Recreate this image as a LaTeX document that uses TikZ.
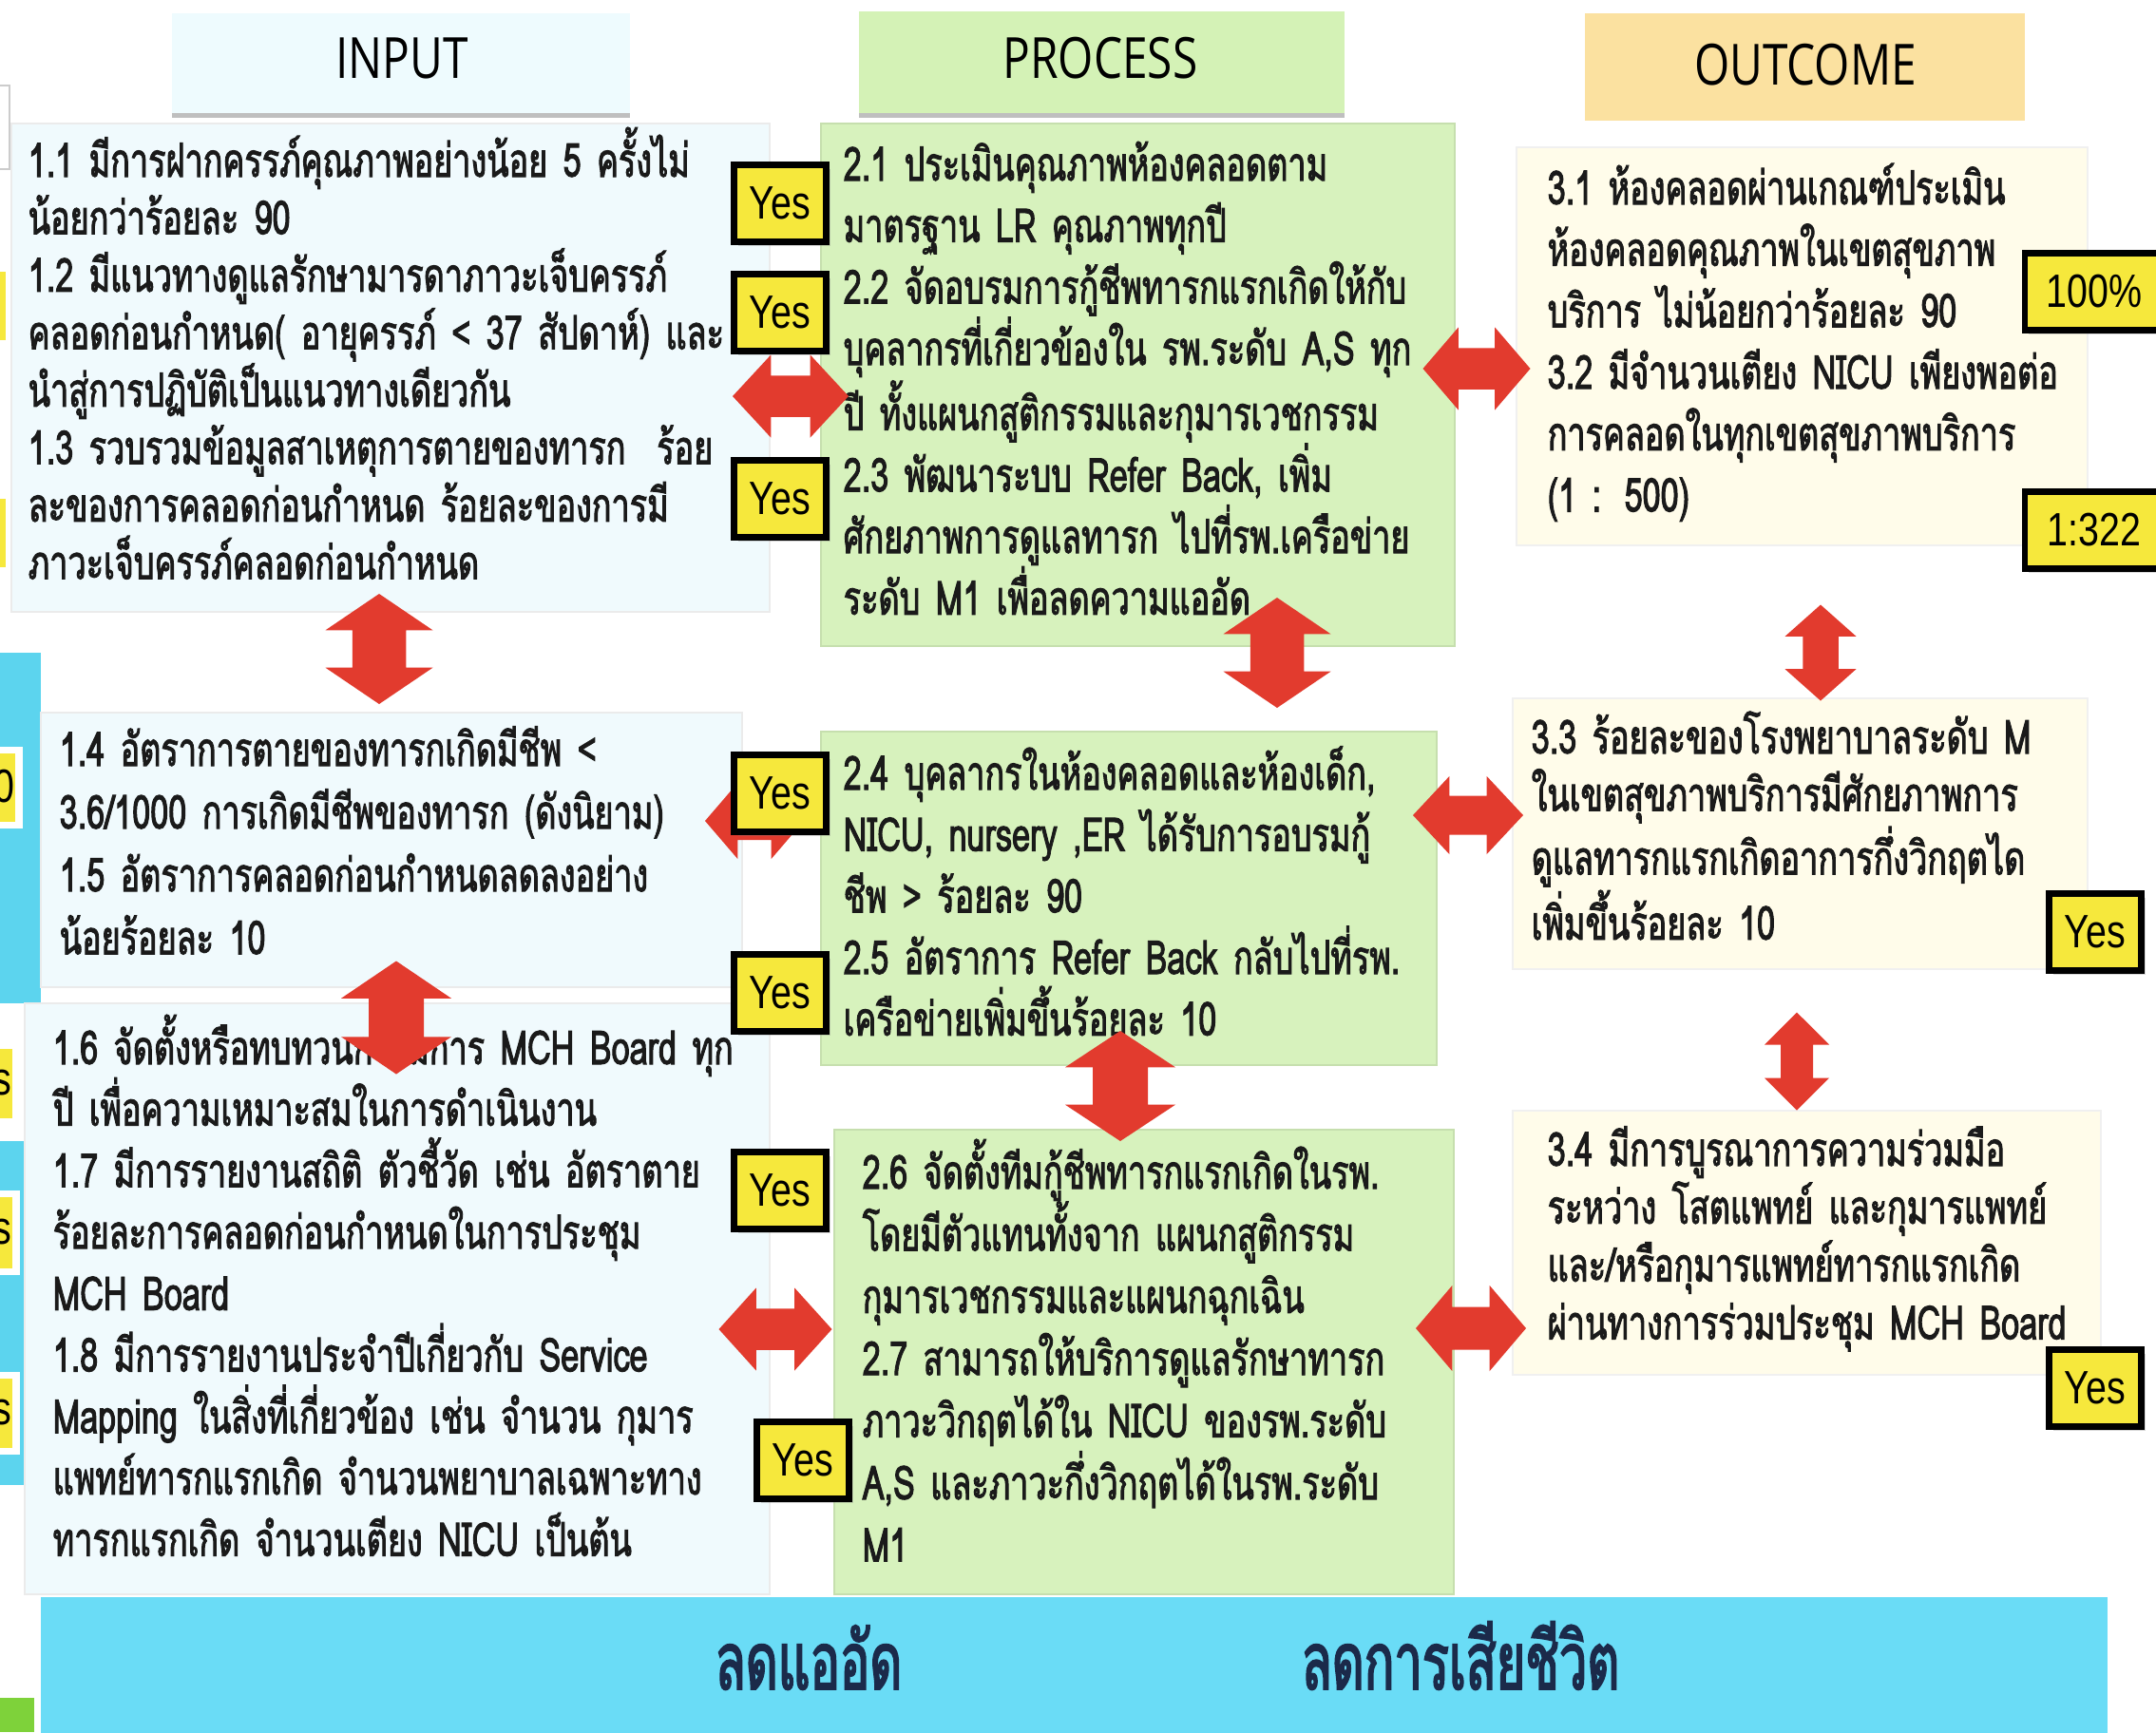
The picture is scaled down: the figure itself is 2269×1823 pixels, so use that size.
\documentclass[tikz,border=0pt]{standalone}
\usepackage{fontspec}
\newfontfamily\thaifont[Script=Thai, FakeStretch=0.695, FakeBold=2]{Loma}
\newfontfamily\thaibig[Script=Thai, FakeStretch=0.62, FakeBold=2.2]{Loma}
\newfontfamily\headfont[FakeStretch=0.8]{Open Sans}
\newfontfamily\yesfont[FakeStretch=0.8]{Liberation Sans}
\usetikzlibrary{fit,shadows}

\definecolor{inputfill}{HTML}{F0FAFD}
\definecolor{inhead}{HTML}{EEFBFE}
\definecolor{procfill}{HTML}{D7F2BD}
\definecolor{prochead}{HTML}{D4F2B6}
\definecolor{outfill}{HTML}{FFFCEA}
\definecolor{outhead}{HTML}{FBE1A0}
\definecolor{barfill}{HTML}{6ADCF6}
\definecolor{bartext}{HTML}{1B2A4A}
\definecolor{arrowred}{HTML}{E23B2E}
\definecolor{yesfill}{HTML}{F6E83C}
\definecolor{thaitext}{HTML}{1A1A1A}
\definecolor{stripblue}{HTML}{5CD4EE}
\definecolor{leafgreen}{HTML}{7ED23A}

\begin{document}
\begin{tikzpicture}[x=0.01cm, y=-0.01cm,
    boxbase/.style={inner sep=0pt, line width=0.5pt},
    inbox/.style={boxbase, fill=inputfill, draw=black!8},
    prbox/.style={boxbase, fill=procfill, draw=procfill!92!black},
    outbox/.style={boxbase, fill=outfill, draw=black!6},
    headtext/.style={anchor=base, inner sep=0pt, font=\headfont\fontsize{17}{20}\selectfont},
    thai/.style={anchor=base west, align=left, text width=8cm, inner sep=0pt, text=thaitext,
        font=\thaifont\fontsize{14}{#1}\selectfont},
    thai/.default=18.4pt,
    bartitle/.style={anchor=base, inner sep=0pt, text=bartext,
        font=\thaibig\fontsize{24}{28}\selectfont},
    yesbox/.style={fill=yesfill, draw=black, line width=1.8pt, inner sep=0pt,
        minimum width=0.97cm, minimum height=0.81cm,
        font=\yesfont\fontsize{14}{16}\selectfont,
        drop shadow={opacity=0.3, shadow xshift=1.2pt, shadow yshift=-1.2pt}},
    cutbox/.style={fill=yesfill, draw=white, line width=2pt},
    pics/dblarrow/.style 2 args={code={
        \pgfmathsetmacro\ax{#1/2}
        \pgfmathsetmacro\bx{#1/2-0.33*#1}
        \pgfmathsetmacro\hw{#2/2}
        \pgfmathsetmacro\sw{#2/4}
        \fill[arrowred] (-\ax,0) -- (-\bx,\hw) -- (-\bx,\sw) -- (\bx,\sw) -- (\bx,\hw)
            -- (\ax,0) -- (\bx,-\hw) -- (\bx,-\sw) -- (-\bx,-\sw) -- (-\bx,-\hw) -- cycle;
    }},
]

\path[use as bounding box, clip] (0,0) rectangle (2269,1823);
\fill[white] (0,0) rectangle (2269,1823);

% === left edge: cut-off neighbour ===
\fill[stripblue] (0,687) rectangle (43,1056);
\fill[stripblue] (0,1201) rectangle (26,1563);
\fill[leafgreen] (0,1787) rectangle (36,1823);
\draw[black!20, fill=white] (-40,90) rectangle (10,178);
\draw[cutbox] (-60,282) rectangle (10,362);
\draw[cutbox] (-60,521) rectangle (10,600);
\draw[cutbox] (-60,789) rectangle (20,868);
\draw[cutbox] (-60,1100) rectangle (17,1180);
\draw[cutbox] (-60,1256) rectangle (17,1338);
\draw[cutbox] (-60,1447) rectangle (17,1527);
\node[anchor=east, inner sep=0pt, font=\yesfont\fontsize{14}{16}\selectfont] (cut0) at (16,828) {0};
\foreach \n/\y in {cut1/1140, cut2/1297, cut3/1487}
    \node[anchor=east, inner sep=0pt, font=\yesfont\fontsize{14}{16}\selectfont] (\n) at (13,\y) {s};

% === headers ===
\fill[inhead] (181,14) rectangle (663,123);
\fill[black!25] (181,119) rectangle (663,124);
\node[headtext] (hin) at (423,82) {INPUT};
\fill[prochead] (904,12) rectangle (1415,123);
\fill[black!25] (904,119) rectangle (1415,124);
\node[headtext] (hpr) at (1158,82) {PROCESS};
\fill[outhead] (1668,14) rectangle (2131,127);
\node[headtext] (hout) at (1900,89) {OUTCOME};

% === INPUT ===
\node[inbox, fit={(12,130) (810,644)}] (in1) {};
\node[inbox, fit={(43,750) (781,1039)}] (in2) {};
\node[inbox, fit={(26,1056) (810,1678)}] (in3) {};

\node[thai=17.2pt] (tin1) at (29,186) {1.1 มีการฝากครรภ์คุณภาพอย่างน้อย 5 ครั้งไม่\\
น้อยกว่าร้อยละ 90\\
1.2 มีแนวทางดูแลรักษามารดาภาวะเจ็บครรภ์\\
คลอดก่อนกำหนด( อายุครรภ์ < 37 สัปดาห์) และ\\
นำสู่การปฏิบัติเป็นแนวทางเดียวกัน\\
1.3 รวบรวมข้อมูลสาเหตุการตายของทารก~ ร้อย\\
ละของการคลอดก่อนกำหนด ร้อยละของการมี\\
ภาวะเจ็บครรภ์คลอดก่อนกำหนด};

\node[thai=18.8pt] (tin2) at (62,806) {1.4 อัตราการตายของทารกเกิดมีชีพ <\\
3.6/1000 การเกิดมีชีพของทารก (ดังนิยาม)\\
1.5 อัตราการคลอดก่อนกำหนดลดลงอย่าง\\
น้อยร้อยละ 10};

\node[thai] (tin3) at (55,1120) {1.6 จัดตั้งหรือทบทวนกรรมการ MCH Board ทุก\\
ปี เพื่อความเหมาะสมในการดำเนินงาน\\
1.7 มีการรายงานสถิติ ตัวชี้วัด เช่น อัตราตาย\\
ร้อยละการคลอดก่อนกำหนดในการประชุม\\
MCH Board\\
1.8 มีการรายงานประจำปีเกี่ยวกับ Service\\
Mapping ในสิ่งที่เกี่ยวข้อง เช่น จำนวน กุมาร\\
แพทย์ทารกแรกเกิด จำนวนพยาบาลเฉพาะทาง\\
ทารกแรกเกิด จำนวนเตียง NICU เป็นต้น};

% === PROCESS ===
\node[prbox, fit={(864,130) (1531,680)}] (pr1) {};
\node[prbox, fit={(864,770) (1512,1121)}] (pr2) {};
\node[prbox, fit={(878,1189) (1530,1678)}] (pr3) {};

\node[thai] (tpr1) at (887,190) {2.1 ประเมินคุณภาพห้องคลอดตาม\\
มาตรฐาน LR คุณภาพทุกปี\\
2.2 จัดอบรมการกู้ชีพทารกแรกเกิดให้กับ\\
บุคลากรที่เกี่ยวข้องใน รพ.ระดับ A,S ทุก\\
ปี ทั้งแผนกสูติกรรมและกุมารเวชกรรม\\
2.3 พัฒนาระบบ Refer Back, เพิ่ม\\
ศักยภาพการดูแลทารก ไปที่รพ.เครือข่าย\\
ระดับ M1 เพื่อลดความแออัด};

\node[thai] (tpr2) at (887,831) {2.4 บุคลากรในห้องคลอดและห้องเด็ก,\\
NICU, nursery ,ER ได้รับการอบรมกู้\\
ชีพ > ร้อยละ 90\\
2.5 อัตราการ Refer Back กลับไปที่รพ.\\
เครือข่ายเพิ่มขึ้นร้อยละ 10};

\node[thai=18.6pt] (tpr3) at (907,1251) {2.6 จัดตั้งทีมกู้ชีพทารกแรกเกิดในรพ.\\
โดยมีตัวแทนทั้งจาก แผนกสูติกรรม\\
กุมารเวชกรรมและแผนกฉุกเฉิน\\
2.7 สามารถให้บริการดูแลรักษาทารก\\
ภาวะวิกฤตได้ใน NICU ของรพ.ระดับ\\
A,S และภาวะกึ่งวิกฤตได้ในรพ.ระดับ\\
M1};

% === OUTCOME ===
\node[outbox, fit={(1596,155) (2197,574)}] (out1) {};
\node[outbox, fit={(1592,735) (2197,1020)}] (out2) {};
\node[outbox, fit={(1592,1169) (2211,1447)}] (out3) {};

\node[thai] (tout1) at (1628,215) {3.1 ห้องคลอดผ่านเกณฑ์ประเมิน\\
ห้องคลอดคุณภาพในเขตสุขภาพ\\
บริการ ไม่น้อยกว่าร้อยละ 90\\
3.2 มีจำนวนเตียง NICU เพียงพอต่อ\\
การคลอดในทุกเขตสุขภาพบริการ\\
(1 : 500)};

\node[thai=17.2pt] (tout2) at (1611,793) {3.3 ร้อยละของโรงพยาบาลระดับ M\\
ในเขตสุขภาพบริการมีศักยภาพการ\\
ดูแลทารกแรกเกิดอาการกึ่งวิกฤตได\\
เพิ่มขึ้นร้อยละ 10};

\node[thai=17.3pt] (tout3) at (1628,1227) {3.4 มีการบูรณาการความร่วมมือ\\
ระหว่าง โสตแพทย์ และกุมารแพทย์\\
และ/หรือกุมารแพทย์ทารกแรกเกิด\\
ผ่านทางการร่วมประชุม MCH Board};

% === red double arrows ===
\foreach \n/\x/\y/\l/\w/\r in {h1/832/417/122/87/0, h2/1554/388/113/87/0,
    h3/794/864/104/80/0, h4/1545/858/116/82/0, h5/816/1399/119/87/0,
    h6/1548/1398/116/90/0, v1/399/683/116/113/90, v2/1344/687/116/113/90,
    v3/1916/687/101/75/90, v4/417/1071/119/116/90, v5/1179/1143/116/116/90,
    v6/1891/1117/103/68/90}
    \pic[rotate=\r] (\n) at (\x,\y) {dblarrow={\l}{\w}};

% === Yes boxes ===
\foreach \n/\x/\y in {y1/821/214, y2/821/329, y3/821/525, y4/821/835, y5/821/1045,
    y6/821/1253, y7/845/1537, y8/2205/981, y9/2205/1461}
    \node[yesbox] (\n) at (\x,\y) {Yes};
\node[yesbox, minimum width=1.46cm] (v100) at (2204,307) {100\%};
\node[yesbox, minimum width=1.46cm] (v322) at (2204,558) {1:322};

% === bottom bar ===
\node[fill=barfill, inner sep=0pt, fit={(43,1681) (2218,1830)}] (bar) {};
\node[bartitle] (goal1) at (851,1778) {ลดแออัด};
\node[bartitle] (goal2) at (1537,1778) {ลดการเสียชีวิต};

\end{tikzpicture}
\end{document}
